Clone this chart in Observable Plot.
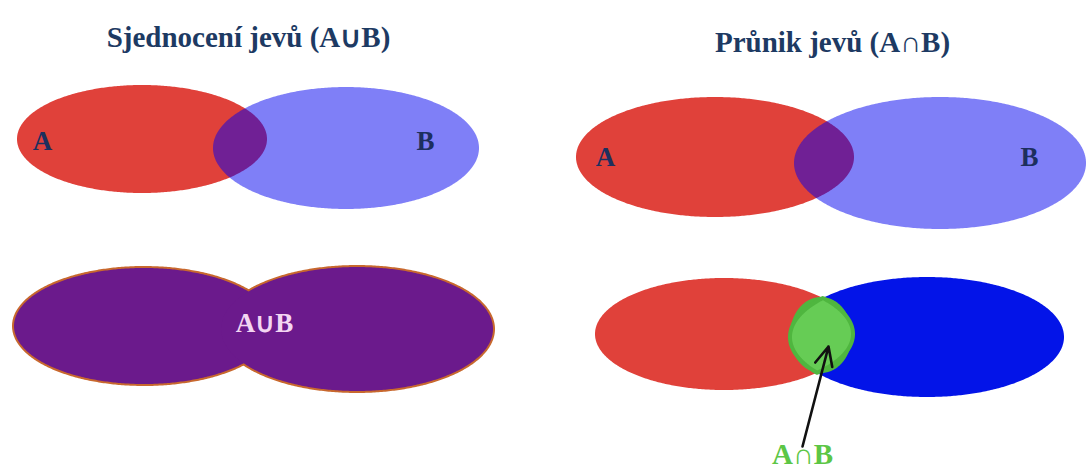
<!DOCTYPE html>
<html>
<head>
<meta charset="utf-8">
<script src="https://cdn.jsdelivr.net/npm/d3@7"></script>
<script src="https://cdn.jsdelivr.net/npm/@observablehq/plot@0.6"></script>
<style>
  html, body { margin: 0; padding: 0; background: #fff; }
</style>
</head>
<body>
<div id="chart"></div>
<script>
// Ellipses: name, centre x, centre y, radius x, radius y (diagram units)
const ellNames = ["A1", "B1", "A2", "B2", "U1", "U2", "A3", "B3", "G"];
const ellCx = [142, 346, 715, 940, 144, 357, 724, 927, 821];
const ellCy = [139, 148, 157, 163, 326, 329, 334, 337, 335];
const ellRx = [125, 133, 139, 146, 130, 136, 129, 137, 31];
const ellRy = [54, 61, 60, 66, 58, 62, 56, 60, 38];

// Titles and labels
const labelTexts = ["Sjednocení jevů (A∪B)", "Průnik jevů (A∩B)", "A", "B", "A", "B", "A∪B", "A∩B"];
const labelX = [248, 832, 42, 425, 605, 1029, 264, 802];
const labelY = [37, 42, 141, 141, 157, 157, 323, 454];

// Arrow pointing at the intersection
const arrowFrom = [802, 446];
const arrowTo = [828, 346];

const N = 240;
function ellipseRows(i) {
  const rows = [];
  for (let k = 0; k <= N; k++) {
    const t = Math.PI * k / N;
    const x = ellCx[i] - ellRx[i] * Math.cos(t);
    const h = ellRy[i] * Math.sin(t);
    rows.push({x, y1: ellCy[i] - h, y2: ellCy[i] + h});
  }
  return rows;
}
function half(i, x) {
  const u = (x - ellCx[i]) / ellRx[i];
  return Math.abs(u) >= 1 ? null : ellRy[i] * Math.sqrt(1 - u * u);
}
function lensRows(i, j) {
  const lo = Math.max(ellCx[i] - ellRx[i], ellCx[j] - ellRx[j]);
  const hi = Math.min(ellCx[i] + ellRx[i], ellCx[j] + ellRx[j]);
  const rows = [];
  for (let k = 0; k <= N; k++) {
    const t = Math.PI * k / N;
    const x = (lo + hi) / 2 - (hi - lo) / 2 * Math.cos(t);
    const hi_ = half(i, x), hj = half(j, x);
    if (hi_ == null || hj == null) continue;
    const y1 = Math.max(ellCy[i] - hi_, ellCy[j] - hj);
    const y2 = Math.min(ellCy[i] + hi_, ellCy[j] + hj);
    if (y2 > y1) rows.push({x, y1, y2});
  }
  return rows;
}
const E = ellNames.map((_, i) => ellipseRows(i));
const idx = n => ellNames.indexOf(n);

const serif = "'Liberation Serif', 'Times New Roman', serif";

const chart = Plot.plot({
  width: 1086,
  height: 471,
  margin: 0,
  x: {domain: [0, 1086], range: [0, 1086], axis: null},
  y: {domain: [0, 471], range: [0, 471], axis: null},
  marks: [
    // Top-left: union illustration
    Plot.areaY(E[idx("A1")], {x: "x", y1: "y1", y2: "y2", fill: "#e0413a"}),
    Plot.areaY(E[idx("B1")], {x: "x", y1: "y1", y2: "y2", fill: "#0000f0", fillOpacity: 0.5}),
    // Top-right: intersection illustration
    Plot.areaY(E[idx("A2")], {x: "x", y1: "y1", y2: "y2", fill: "#e0413a"}),
    Plot.areaY(E[idx("B2")], {x: "x", y1: "y1", y2: "y2", fill: "#0000f0", fillOpacity: 0.5}),
    // Bottom-left: merged union shape with outline
    Plot.areaY(E[idx("U1")], {x: "x", y1: "y1", y2: "y2", fill: "#c8682e", stroke: "#c8682e", strokeWidth: 4}),
    Plot.areaY(E[idx("U2")], {x: "x", y1: "y1", y2: "y2", fill: "#c8682e", stroke: "#c8682e", strokeWidth: 4}),
    Plot.areaY(E[idx("U1")], {x: "x", y1: "y1", y2: "y2", fill: "#6b1a8c"}),
    Plot.areaY(E[idx("U2")], {x: "x", y1: "y1", y2: "y2", fill: "#6b1a8c"}),
    // Bottom-right: A red, B blue, intersection green
    Plot.areaY(E[idx("A3")], {x: "x", y1: "y1", y2: "y2", fill: "#e0413a"}),
    Plot.areaY(E[idx("B3")], {x: "x", y1: "y1", y2: "y2", fill: "#0314e8"}),
    Plot.areaY(E[idx("G")], {x: "x", y1: "y1", y2: "y2", fill: "#4fb63f"}),
    Plot.areaY(lensRows(idx("A3"), idx("B3")), {x: "x", y1: "y1", y2: "y2", fill: "#66cc55", stroke: "#4fb63f", strokeWidth: 4}),
    Plot.arrow([{x1: arrowFrom[0], y1: arrowFrom[1], x2: arrowTo[0], y2: arrowTo[1]}], {
      x1: "x1", y1: "y1", x2: "x2", y2: "y2", stroke: "#111", strokeWidth: 2.6, headLength: 12, headAngle: 50
    }),
    // Texts
    Plot.text(labelTexts.slice(0, 2), {
      x: (d, i) => labelX[i], y: (d, i) => labelY[i], text: d => d,
      fontSize: 29, fontWeight: "bold", fill: "#1d3a63", fontFamily: serif, textAnchor: "middle"
    }),
    Plot.text(labelTexts.slice(2, 6), {
      x: (d, i) => labelX[i + 2], y: (d, i) => labelY[i + 2], text: d => d,
      fontSize: 27, fontWeight: "bold", fill: "#1d2f5e", fontFamily: serif, textAnchor: "middle"
    }),
    Plot.text([labelTexts[6]], {
      x: labelX[6], y: labelY[6], text: d => d,
      fontSize: 27, fontWeight: "bold", fill: "#f3d6f2", fontFamily: serif, textAnchor: "middle"
    }),
    Plot.text([labelTexts[7]], {
      x: labelX[7], y: labelY[7], text: d => d,
      fontSize: 29, fontWeight: "bold", fill: "#5cc646", fontFamily: serif, textAnchor: "middle"
    })
  ]
});
document.getElementById("chart").appendChild(chart);
</script>
</body>
</html>
